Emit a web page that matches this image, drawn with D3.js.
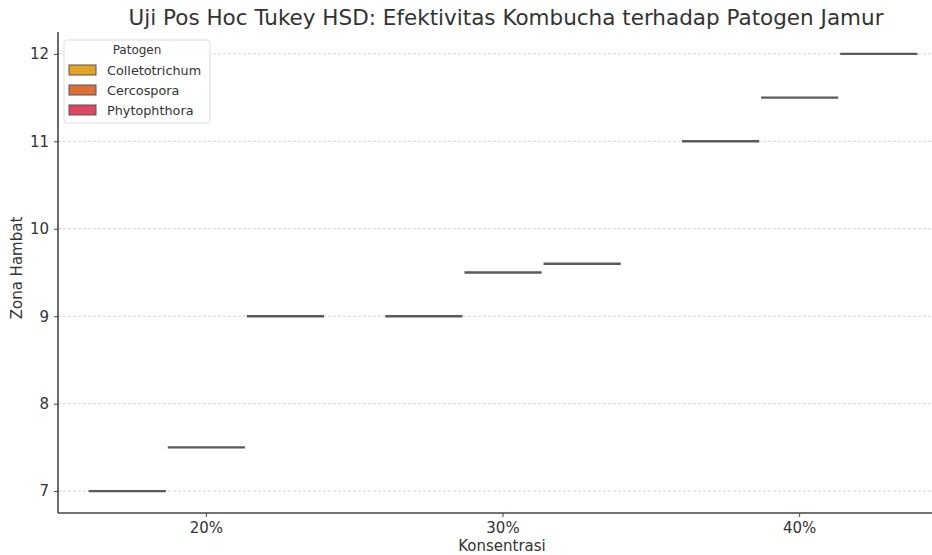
<!DOCTYPE html>
<html>
<head>
<meta charset="utf-8">
<script src="https://cdn.jsdelivr.net/npm/d3@7"></script>
<style>
  body { margin: 0; background: #fff; }
  svg { font-family: "DejaVu Sans", sans-serif; }
</style>
</head>
<body>
<svg id="chart" width="932" height="555"></svg>
<script>
// data
const konsentrasi = ["20%", "30%", "40%"];
const patogen = ["Colletotrichum", "Cercospora", "Phytophthora"];
const warna = ["#e3a424", "#e07136", "#df4660"];
// zona hambat per konsentrasi, in patogen order
const zona20 = [7, 7.5, 9];
const zona30 = [9, 9.5, 9.6];
const zona40 = [11, 11.5, 12];
const yTicks = [7, 8, 9, 10, 11, 12];

const rows = [zona20, zona30, zona40];
const data = [];
konsentrasi.forEach((k, i) => {
	patogen.forEach((p, j) => data.push({k: k, p: p, v: rows[i][j]}));
});

const svg = d3.select("#chart");
const m = {left: 58, right: 948, top: 32, bottom: 513};

const x = d3.scaleBand().domain(konsentrasi).range([m.left, m.right]).paddingInner(0).paddingOuter(0);
const xs = d3.scaleBand().domain(patogen).range([0, x.bandwidth() * 0.8]);
const y = d3.scaleLinear().domain([6.75, 12.25]).range([m.bottom, m.top]);

// grid
svg.append("g").selectAll("line").data(yTicks).join("line")
	.attr("x1", m.left).attr("x2", m.right)
	.attr("y1", d => y(d)).attr("y2", d => y(d))
	.attr("stroke", "#c8c8c8").attr("stroke-width", 0.8)
	.attr("stroke-dasharray", "3,2");

// boxes (zero-height, only median line shows)
const off = x.bandwidth() * 0.1;
svg.append("g").selectAll("line").data(data).join("line")
	.attr("x1", d => x(d.k) + off + xs(d.p) + 1)
	.attr("x2", d => x(d.k) + off + xs(d.p) + xs.bandwidth() - 1)
	.attr("y1", d => y(d.v)).attr("y2", d => y(d.v))
	.attr("stroke", "#5a5a5a").attr("stroke-width", 2.4);

// axes
const yAxis = svg.append("g").attr("transform", `translate(${m.left},0)`)
	.call(d3.axisLeft(y).tickValues(yTicks).tickFormat(d3.format("d")).tickSize(4).tickPadding(5));
const xAxis = svg.append("g").attr("transform", `translate(0,${m.bottom})`)
	.call(d3.axisBottom(x).tickSize(4).tickPadding(5));
[xAxis, yAxis].forEach(a => {
	a.select(".domain").attr("stroke", "#444").attr("stroke-width", 1.6);
	a.selectAll(".tick line").attr("stroke", "#444").attr("stroke-width", 1);
	a.selectAll("text").attr("fill", "#333").attr("font-size", 15)
		.attr("font-family", "DejaVu Sans");
});
yAxis.select(".domain").attr("d", `M0,${m.bottom}V${m.top}`);
xAxis.select(".domain").attr("d", `M${m.left},0H${m.right}`);

// labels
svg.append("text").attr("x", 506).attr("y", 25)
	.attr("text-anchor", "middle").attr("font-size", 21.5).attr("fill", "#333")
	.text("Uji Pos Hoc Tukey HSD: Efektivitas Kombucha terhadap Patogen Jamur");
svg.append("text").attr("x", 502).attr("y", 551)
	.attr("text-anchor", "middle").attr("font-size", 15).attr("fill", "#333")
	.text("Konsentrasi");
svg.append("text").attr("transform", "translate(22,268) rotate(-90)")
	.attr("text-anchor", "middle").attr("font-size", 15).attr("fill", "#333")
	.text("Zona Hambat");

// legend
const lg = svg.append("g").attr("transform", "translate(64,40)");
lg.append("rect").attr("width", 146).attr("height", 83).attr("rx", 3)
	.attr("fill", "#fff").attr("fill-opacity", 0.85)
	.attr("stroke", "#dcdcdc").attr("stroke-width", 1);
lg.append("text").attr("x", 73).attr("y", 14).attr("text-anchor", "middle")
	.attr("font-size", 12).attr("fill", "#333").text("Patogen");
patogen.forEach((p, i) => {
	const r = lg.append("g").attr("transform", `translate(5,${25 + i * 20})`);
	r.append("rect").attr("width", 27).attr("height", 10)
		.attr("fill", warna[i]).attr("stroke", "#555").attr("stroke-width", 1);
	r.append("text").attr("x", 38).attr("y", 10).attr("font-size", 12.8)
		.attr("fill", "#333").text(p);
});
</script>
</body>
</html>
